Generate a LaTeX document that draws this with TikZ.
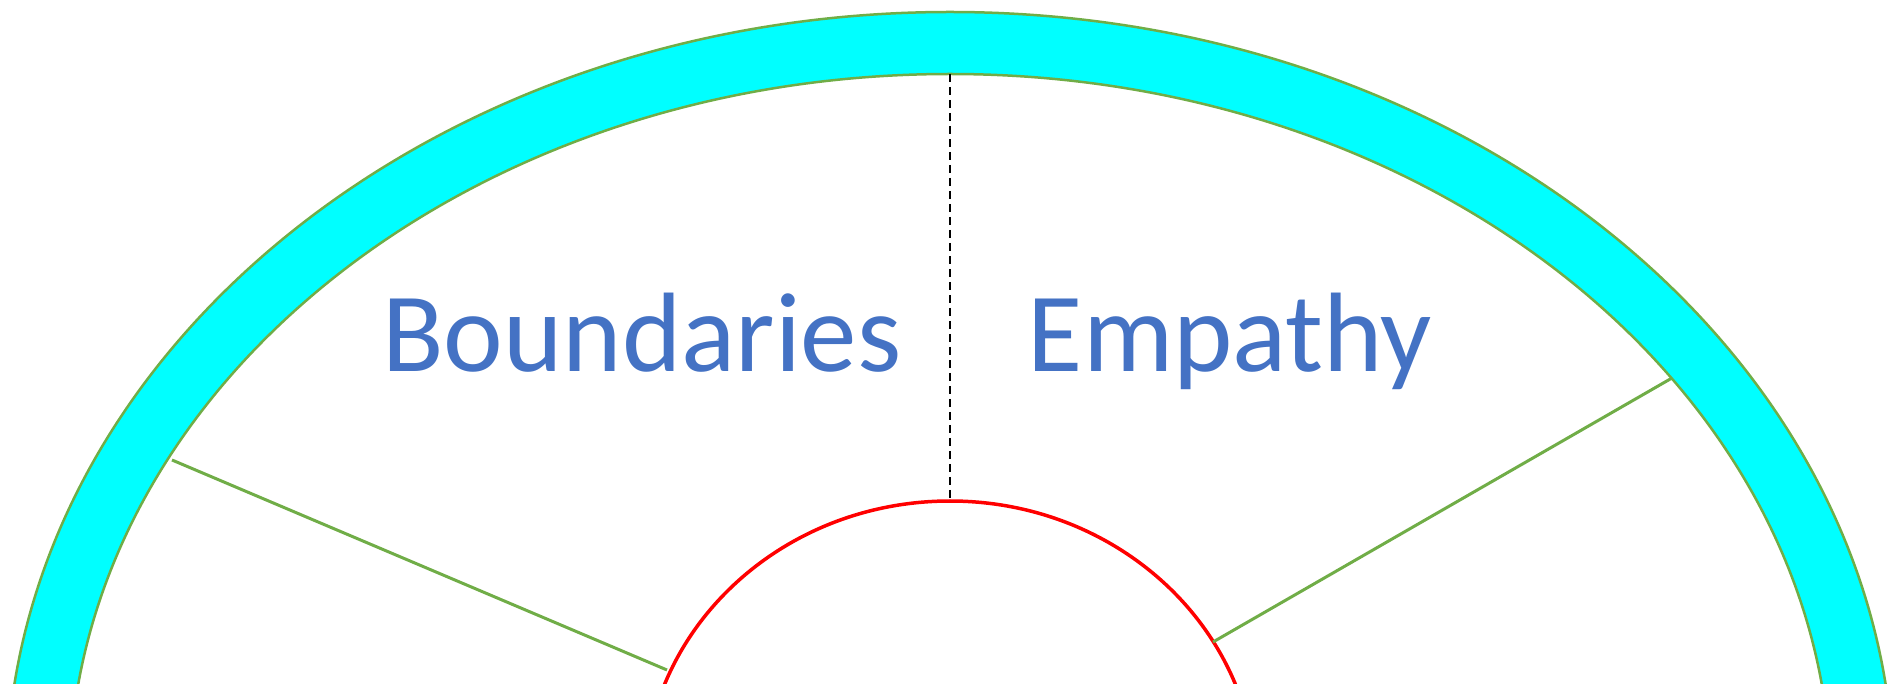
\documentclass[tikz,border=0pt]{standalone}
\usepackage{fontspec}
\setmainfont{Carlito}
\usepackage{tikz}
\usetikzlibrary{calc}
\definecolor{ringcyan}{RGB}{0,255,255}
\definecolor{ringgreen}{RGB}{112,173,71}
\definecolor{wordblue}{RGB}{68,114,196}

\begin{document}
\begin{tikzpicture}[x=1pt,y=1pt,
    ringline/.style={ringgreen, line width=2.5pt},
    spoke/.style={ringgreen, line width=3pt},
    wordlabel/.style={text=wordblue, inner sep=0pt, anchor=base, font=\fontsize{113}{136}\selectfont}]
                \def\outerrx{944}
                \def\outerry{776}
                \def\innerrx{881}
                \def\innerry{714}
                \coordinate (c) at (950,-105);
                \coordinate (top) at (950,609);
                \coordinate (core) at (950,182);
                \coordinate (l1) at (172,223);
                \coordinate (l2) at (667,13);
                \coordinate (r1) at (1672,305);
                \coordinate (r2) at (1213,41);
                \useasboundingbox (0,0) rectangle (1898,683);
                \clip (0,0) rectangle (1898,683);
                %Ring
                \fill[ringcyan, even odd rule] (c) ellipse [x radius=\outerrx, y radius=\outerry]
                    (c) ellipse [x radius=\innerrx, y radius=\innerry];
                \draw[ringline] (c) ellipse [x radius=\outerrx, y radius=\outerry];
                \draw[ringline] (c) ellipse [x radius=\innerrx, y radius=\innerry];
                %Core
                \draw[red, line width=3.5pt] (c) ellipse [x radius=306, y radius=287];
                %Spokes
                \draw[spoke] (l1) -- (l2);
                \draw[spoke] (r1) -- (r2);
                \draw[black, line width=2.5pt, dash pattern=on 8pt off 5pt] (top) -- (core);
                %Labels
                \node[wordlabel] (bound) at (642,311) {Boundaries};
                \node[wordlabel] (emp) at (1230,311) {Empathy};
            \end{tikzpicture}
\end{document}
